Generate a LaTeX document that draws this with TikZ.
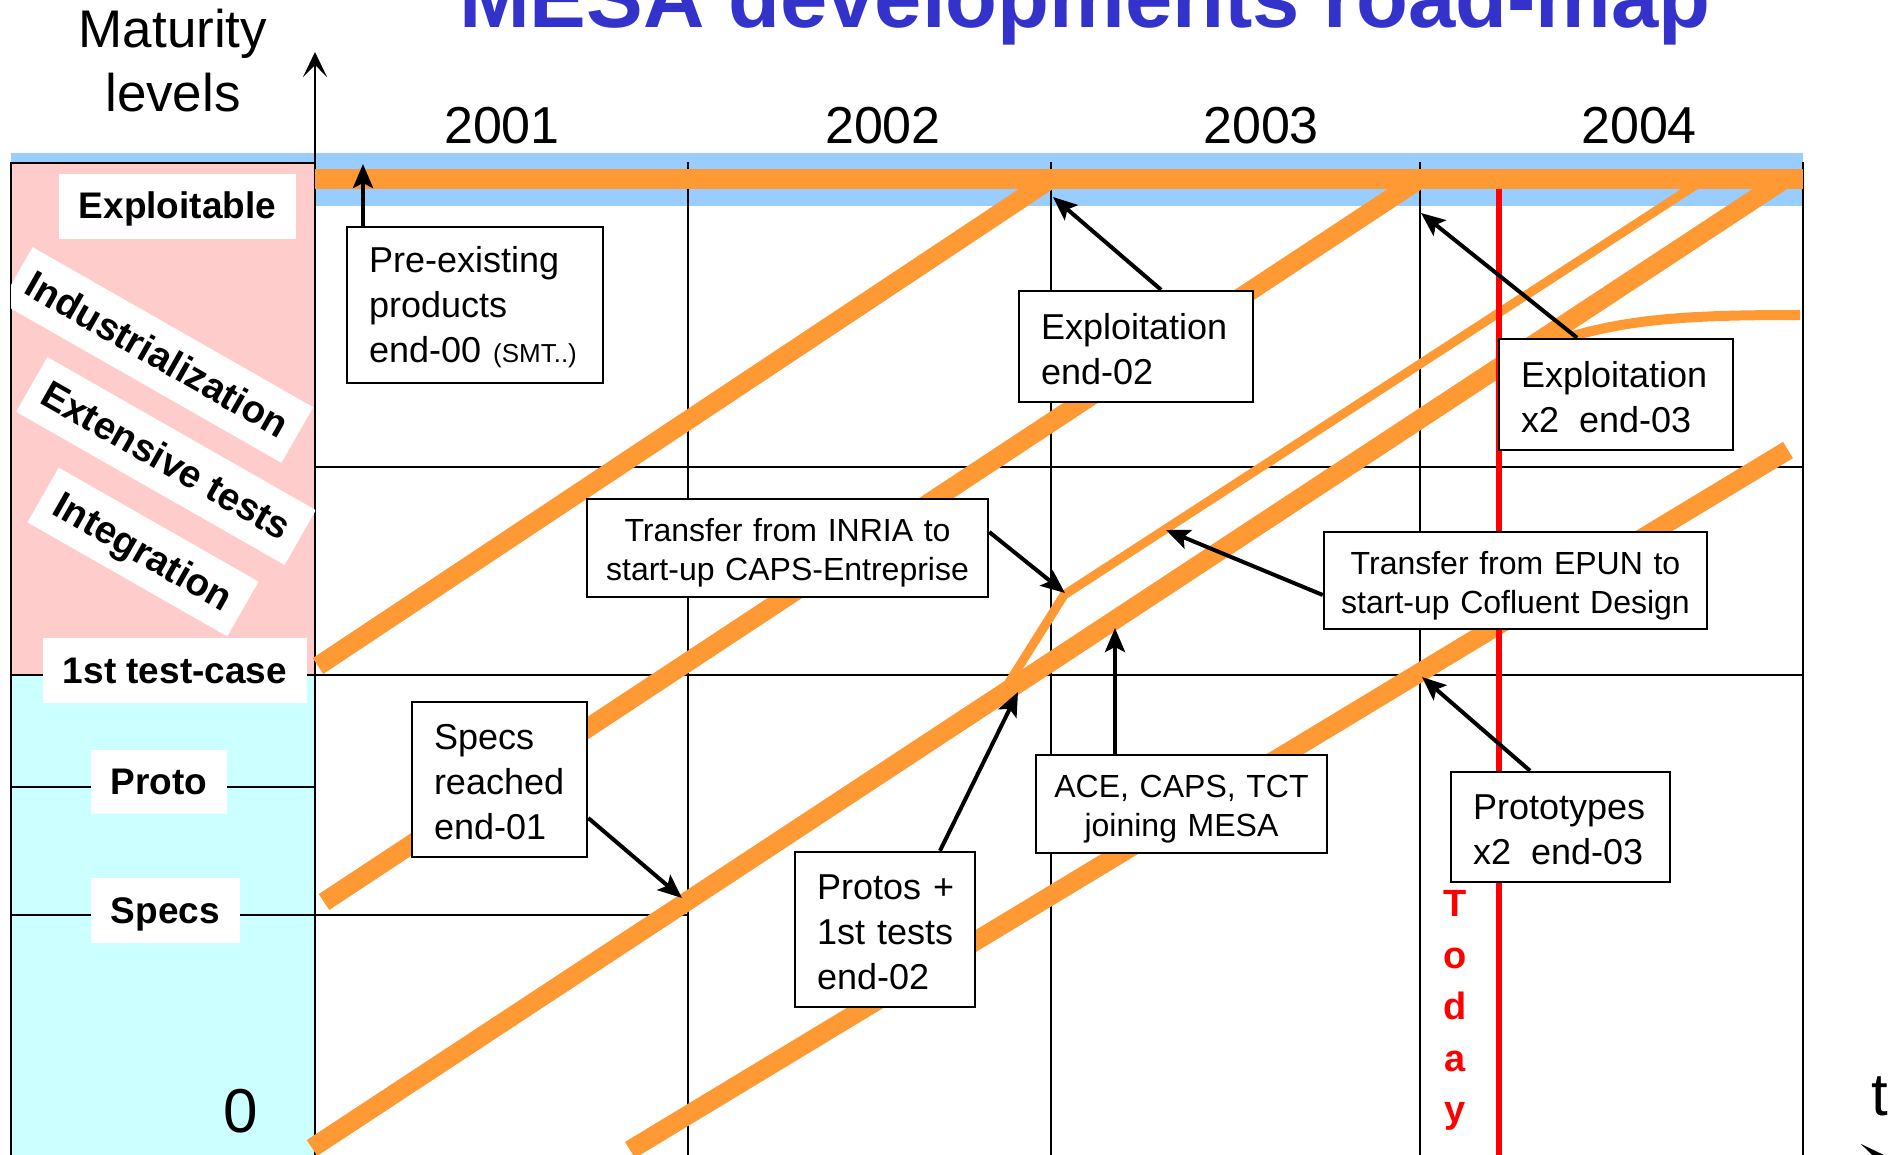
\documentclass[tikz,border=0pt]{standalone}
\usepackage{fontspec}
\setmainfont{Liberation Sans}
\usetikzlibrary{arrows.meta,calc}
\definecolor{orng}{HTML}{FF9933}
\definecolor{bandblue}{HTML}{99CCFF}
\definecolor{pinkbg}{HTML}{FFCCCC}
\definecolor{cyanbg}{HTML}{CCFFFF}
\definecolor{titleblue}{HTML}{3333CC}
\newcommand\fsz[2]{\fontsize{#1}{#2}\selectfont}
\begin{document}
\begin{tikzpicture}[x=1pt,y=-1pt,
  box/.style={draw=black, line width=2.5pt, fill=white, inner sep=0pt, align=left, font=\fsz{36}{45},
    execute at begin node={\hbadness=10000\hfuzz=100pt\rule{0pt}{31pt}}},
  lbox/.style={box, text width=#1, inner xsep=22pt},
  cbox/.style={draw=black, line width=2.5pt, fill=white, inner sep=0pt, align=center, font=\fsz{32}{39},
    text width=#1, execute at begin node={\hbadness=10000\hfuzz=100pt\rule{0pt}{33pt}}},
  lbl/.style={fill=white, inner sep=0pt, font=\bfseries\fsz{37}{44}, text height=33pt, text depth=8pt},
  rlbl/.style={lbl, font=\bfseries\fsz{38.5}{44}, rotate=-29.7},
  band/.style={draw=orng, line width=19pt},
  thinband/.style={draw=orng, line width=9pt, line join=miter},
  gridline/.style={draw=black, line width=1.5pt},
  arr/.style={draw=black, line width=4pt, -{Stealth[length=24pt,width=20pt,inset=5pt]}},
  axis/.style={draw=black, line width=1.5pt, -{Stealth[length=25pt,width=24pt,inset=12pt]}},
  plain/.style={inner sep=0pt, anchor=base}
]
\useasboundingbox (0,0) rectangle (1903,1155);
\fill[white] (0,0) rectangle (1903,1155);

% backgrounds
\fill[bandblue] (11,153) rectangle (1803,206);
\fill[pinkbg] (11,163) rectangle (315,675);
\fill[cyanbg] (11,675) rectangle (315,1155);

% grid
\draw[gridline] (11,1155) -- (11,163) -- (315,163);
\draw[gridline] (688,162) -- (688,1155);
\draw[gridline] (1051,162) -- (1051,1155);
\draw[gridline] (1420,162) -- (1420,1155);
\draw[gridline] (1803,162) -- (1803,1155);
\draw[gridline] (315,467) -- (1803,467);
\draw[gridline] (11,675) -- (1803,675);
\draw[gridline] (11,787) -- (315,787);
\draw[gridline] (11,915) -- (688,915);

% axes
\draw[axis] (315,1155) -- (315,52);
\draw[axis] (11,1156) -- (1886,1156);

% orange bands
\draw[band] (318,666) -- (1051,179);
\draw[band] (324,902) -- (1420,179);
\draw[band] (312,1148) -- (1785,179);
\draw[band] (630,1150) -- (1788,450);
\draw[thinband] (1003,692) -- (1064,595) -- (1705,179);
\draw[orng, line width=10pt] (1545,345) .. controls (1620,318) and (1690,315) .. (1800,315);
\draw[orng, line width=20pt] (315,179) -- (1803,179);

% today line
\draw[red, line width=6pt] (1499,189) -- (1499,1155);

% left labels
\node[lbl, minimum width=237, minimum height=65] (lexp) at (177.5,206.5) {Exploitable};
\begin{scope}
\clip (11,163) rectangle (315,675);
\node[rlbl, minimum width=323, minimum height=64] (lind) at (157,355) {Industrialization};
\node[rlbl, minimum width=309, minimum height=63] (lext) at (166,461) {Extensive tests};
\node[rlbl, minimum width=230, minimum height=63] (lint) at (143,552) {Integration};
\end{scope}
\node[lbl, minimum width=264, minimum height=65] (ltest) at (175,670.5) {1st test-case};
\node[lbl, minimum width=136, minimum height=64] (lproto) at (159,782) {Proto};
\node[lbl, minimum width=149, minimum height=65] (lspecs) at (165.5,910.5) {Specs};

% boxes
\node[lbox=212pt, minimum height=156] (pre) at (475,305) {Pre-existing\\products\\\mbox{end-00 {\fsz{26}{45}(SMT..)}}};
\node[lbox=190pt, minimum height=111] (e02) at (1136,346.5) {Exploitation\\end-02};
\node[lbox=190pt, minimum height=111] (e03) at (1616,394.5) {Exploitation\\\mbox{x2\hspace*{20pt}end-03}};
\node[cbox=401pt, minimum height=98] (inria) at (787.5,548) {Transfer from INRIA to\\start-up CAPS-Entreprise};
\node[cbox=383pt, minimum height=97] (epun) at (1515.5,580.5) {Transfer from EPUN to\\start-up Cofluent Design};
\node[cbox=291pt, minimum height=98] (ace) at (1181.5,804) {ACE, CAPS, TCT\\joining MESA};
\node[lbox=175pt, minimum height=110] (proto) at (1560.5,827) {Prototypes\\\mbox{x2\hspace*{20pt}end-03}};
\node[lbox=136pt, minimum height=155] (protos) at (885,929.5) {\mbox{Protos +}\\\mbox{1st tests}\\end-02};
\node[lbox=131pt, minimum height=155] (specs) at (499.5,779.5) {Specs\\\mbox{reached}\\end-01};

% arrows
\coordinate (tpre) at (363,164);
\coordinate (te02) at (1053,197);
\coordinate (te03) at (1421,213);
\coordinate (tinria) at (1065,593);
\coordinate (tepun) at (1166,530);
\coordinate (tace) at (1115,628);
\coordinate (tproto) at (1422,677);
\coordinate (tprotos) at (1018,692);
\coordinate (tspecs) at (682,898);
\draw[arr] (pre.north -| tpre) -- (tpre);
\draw[arr] ($(e02.north)+(25,0)$) -- (te02);
\draw[arr] ($(e03.north)+(-39,0)$) -- (te03);
\draw[arr] ($(inria.east)+(0,-16)$) -- (tinria);
\draw[arr] ($(epun.west)+(0,14.5)$) -- (tepun);
\draw[arr] (ace.north -| tace) -- (tace);
\draw[arr] ($(proto.north)+(-30.5,0)$) -- (tproto);
\draw[arr] ($(protos.north)+(55,0)$) -- (tprotos);
\draw[arr] ($(specs.east)+(0,38.5)$) -- (tspecs);

% texts
\node[plain, font=\bfseries\fsz{85}{100}, text=titleblue] (title) at (1085,28) {MESA developments road-map};
\node[plain, font=\fsz{53}{64}] (mat1) at (173,48) {Maturity};
\node[plain, font=\fsz{53}{64}] (mat2) at (173,112) {levels};
\node[plain, font=\fsz{52}{60}] (y1) at (502,144) {2001};
\node[plain, font=\fsz{52}{60}] (y2) at (883,144) {2002};
\node[plain, font=\fsz{52}{60}] (y3) at (1261,144) {2003};
\node[plain, font=\fsz{52}{60}] (y4) at (1639,144) {2004};
\node[plain, font=\fsz{62}{70}] (zero) at (241,1132) {0};
\node[plain, font=\fsz{60}{70}] (tlab) at (1880,1115) {t};
\node[text=red, font=\bfseries\fsz{38}{51.5}, align=center, inner sep=0pt] (today) at (1455,1010.5) {T\\o\\d\\a\\y};
\end{tikzpicture}
\end{document}
